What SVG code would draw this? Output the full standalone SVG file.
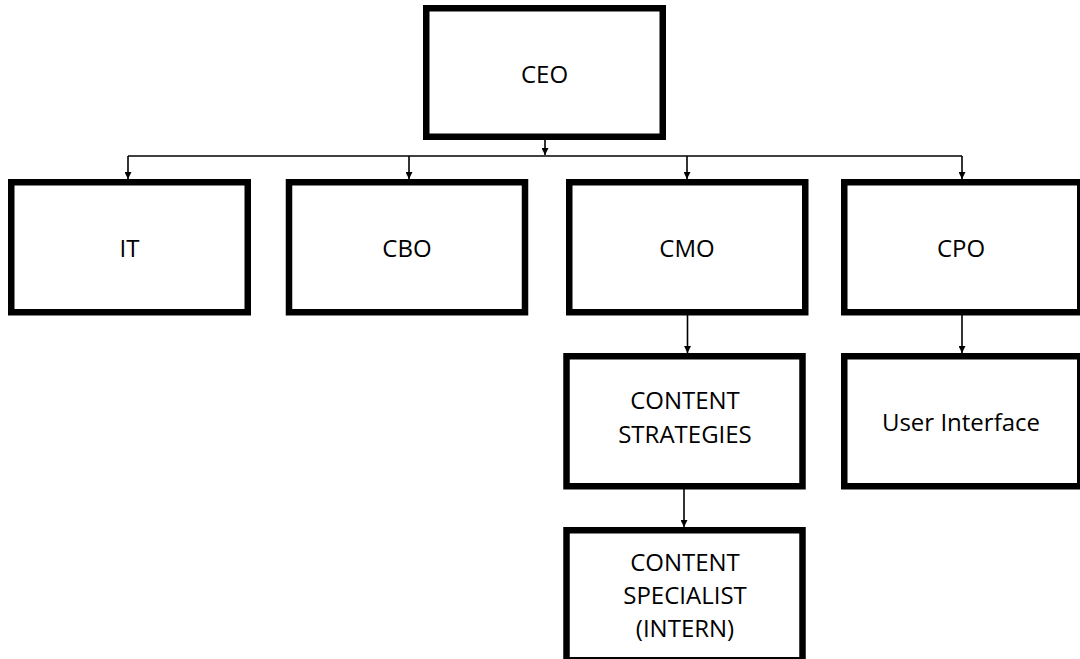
<svg xmlns="http://www.w3.org/2000/svg" width="1080" height="659" viewBox="0 0 1080 659">
<defs>
<marker id="arr" viewBox="0 0 10 10" refX="10" refY="5" markerWidth="7" markerHeight="7" markerUnits="userSpaceOnUse" orient="auto">
<path d="M0,0 L10,5 L0,10 z" fill="#000"/>
</marker>
<style>
.box{fill:#fff;stroke:#000;stroke-width:6.5}
.lbl{font-family:"Open Sans","Noto Sans",sans-serif;font-size:24px;fill:#000;text-anchor:middle}
.con{fill:none;stroke:#000;stroke-width:1.6}
.ah{marker-end:url(#arr)}
</style>
</defs>
<rect width="1080" height="659" fill="#fff"/>
<g id="connectors">
<path class="con" d="M128,156 H962"/>
<path class="con ah" d="M545,140 V155"/>
<path class="con ah" d="M128,156 V179"/>
<path class="con ah" d="M409,156 V179"/>
<path class="con ah" d="M687,156 V179"/>
<path class="con ah" d="M962,156 V179"/>
<path class="con ah" d="M687.5,315 V353"/>
<path class="con ah" d="M684,489 V527"/>
<path class="con ah" d="M962,315 V353"/>
</g>
<g id="ceo"><rect class="box" x="426.25" y="8.25" width="236.5" height="128.5"/><text class="lbl" x="544.5" y="82.5">CEO</text></g>
<g id="it"><rect class="box" x="11.25" y="182.25" width="236.5" height="130"/><text class="lbl" x="129.5" y="256.5">IT</text></g>
<g id="cbo"><rect class="box" x="289" y="182.25" width="236" height="130"/><text class="lbl" x="407" y="256.5">CBO</text></g>
<g id="cmo"><rect class="box" x="569.25" y="182.25" width="236" height="130"/><text class="lbl" x="687" y="256.5">CMO</text></g>
<g id="cpo"><rect class="box" x="844.25" y="182.25" width="236" height="130"/><text class="lbl" x="961" y="256.5">CPO</text></g>
<g id="content-strategies"><rect class="box" x="566.5" y="356.25" width="236" height="130"/><text class="lbl" x="685" y="409">CONTENT</text><text class="lbl" x="685" y="443">STRATEGIES</text></g>
<g id="user-interface"><rect class="box" x="844.25" y="356.25" width="236" height="130"/><text class="lbl" x="961" y="430.5">User Interface</text></g>
<g id="content-specialist"><rect class="box" x="566.5" y="530.25" width="236" height="130"/><text class="lbl" x="685" y="570.5">CONTENT</text><text class="lbl" x="685" y="603.5">SPECIALIST</text><text class="lbl" x="685" y="637">(INTERN)</text></g>
</svg>
